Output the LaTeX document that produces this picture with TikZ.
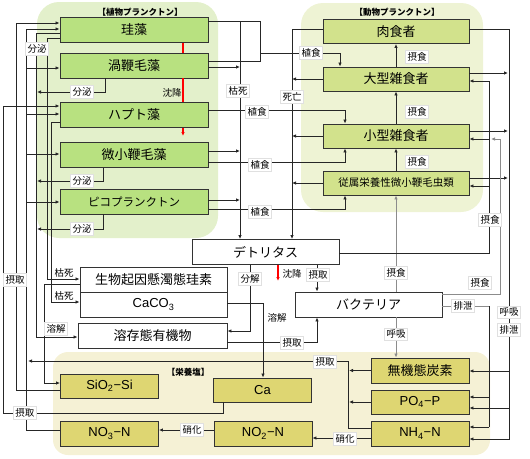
\documentclass[tikz,border=0pt]{standalone}
\usepackage{fontspec}
\setmainfont{Noto Sans CJK JP}
\newfontfamily\lat{Liberation Sans}
\usetikzlibrary{arrows.meta}
\definecolor{phybg}{RGB}{227,240,203}
\definecolor{zoobg}{RGB}{238,243,212}
\definecolor{nutbg}{RGB}{245,241,213}
\definecolor{phyfill}{RGB}{184,225,128}
\definecolor{zoofill}{RGB}{210,226,140}
\definecolor{nutfill}{RGB}{222,214,114}

\begin{document}
\begin{tikzpicture}[x=1pt,y=-1pt,line width=0.8pt,draw=black!85,
  box/.style={draw=black!80,line width=0.9pt,minimum height=25pt,inner sep=0pt,font=\fontsize{13}{15}\selectfont},
  phy/.style={box,fill=phyfill,minimum width=148pt},
  zoo/.style={box,fill=zoofill,minimum width=146pt,minimum height=24pt},
  mid/.style={box,fill=white,minimum width=147pt},
  nut/.style={box,fill=nutfill,minimum width=98pt,minimum height=24pt},
  lbl/.style={fill=white,draw=black!12,line width=0.4pt,inner sep=2pt,font=\fontsize{9.5}{11}\selectfont},
  txt/.style={inner sep=1pt,font=\fontsize{9.5}{11}\selectfont},
  ttl/.style={font=\fontsize{8.5}{10}\selectfont\bfseries},
  arr/.style={-{Latex[length=4pt,width=3.5pt]}},
  gln/.style={draw=black!45},
  sink/.style={draw=red,line width=1.1pt}]
  \useasboundingbox (0,0) rectangle (530,458);

  % groups
  \fill[phybg,rounded corners=22pt] (37,2) rectangle (218,238);
  \fill[zoobg,rounded corners=22pt] (301,3) rectangle (483,212);
  \fill[nutbg,rounded corners=15pt] (53,352) rectangle (490,455);
  \node[ttl] (ttlphy) at (140,12) {【植物プランクトン】};
  \node[ttl] (ttlzoo) at (397,12) {【動物プランクトン】};
  \node[ttl] (ttlnut) at (188,372) {【栄養塩】};

  % phytoplankton
  \node[phy] (keiso) at (134,30) {珪藻};
  \node[phy] (uzu) at (134,65.5) {渦鞭毛藻};
  \node[phy] (hapto) at (134,115) {ハプト藻};
  \node[phy] (bisho) at (134,155) {微小鞭毛藻};
  \node[phy,font=\fontsize{11.5}{13}\selectfont] (pico) at (134,201.5) {ピコプランクトン};

  % zooplankton
  \node[zoo] (niku) at (396,31.5) {肉食者};
  \node[zoo] (ogata) at (396,79) {大型雑食者};
  \node[zoo] (kogata) at (396,136) {小型雑食者};
  \node[zoo,font=\fontsize{10.5}{12}\selectfont] (juzoku) at (396,183) {従属栄養性微小鞭毛虫類};

  % detritus, particles, DOM, bacteria
  \node[mid] (detritus) at (265.5,252) {デトリタス};
  \node[mid] (seibutsu) at (153.5,279.5) {生物起因懸濁態珪素};
  \node[mid] (caco3) at (153.5,304.5) {\lat CaCO\textsubscript{3}};
  \node[mid,minimum width=149pt] (doc) at (152.5,336) {溶存態有機物};
  \node[mid] (bact) at (368.5,304.5) {バクテリア};

  % nutrients
  \node[nut] (sio2) at (109.5,386) {\lat SiO\textsubscript{2}−Si};
  \node[nut] (ca) at (262.5,390) {\lat Ca};
  \node[nut,minimum height=25pt] (no3) at (109.5,433.5) {\lat NO\textsubscript{3}−N};
  \node[nut,minimum height=25pt] (no2) at (263,433.5) {\lat NO\textsubscript{2}−N};
  \node[nut,minimum height=25pt] (tanso) at (420,370.5) {無機態炭素};
  \node[nut] (po4) at (420,402) {\lat PO\textsubscript{4}−P};
  \node[nut,minimum height=25pt] (nh4) at (420,433.5) {\lat NH\textsubscript{4}−N};

  % uptake by phytoplankton
  \draw[arr] (ca.south -| 223,0) |- (3,413) |- (hapto.west |- 0,106);
  \draw[arr] (sio2.west |- 0,390) -| (16,23) -- (keiso.west |- 0,23);
  \draw (no3.west |- 0,430) -| (26,29);
  \foreach \y/\n in {29/keiso,68/uzu,114/hapto,154/bisho,202/pico}
    \draw[arr] (26,\y) -- (\n.west |- 0,\y);
  \draw[arr] (nh4.west |- 0,428) -| (348,361) -- (28,361);
  \draw[arr] (tanso.west) -- (tanso.west -| 349,0);
  \draw[arr] (po4.west) -- (po4.west -| 349,0);

  % excretion and death of phytoplankton
  \draw[arr] (keiso.west |- 0,33) -| (36,337) -- (doc.west |- 0,337);
  \draw[arr] (uzu.south -| 105,0) |- (37,92);
  \draw[arr] (bisho.south -| 103,0) |- (37,181);
  \draw[arr] (pico.south -| 103,0) |- (37,229);
  \draw[arr] (keiso.west |- 0,38) -| (47,279) -- (seibutsu.west |- 0,279);
  \draw[arr] (hapto.west |- 0,122) -| (51,302) -- (caco3.west |- 0,302);
  \draw[arr] (seibutsu.west |- 0,284) -| (44,383) -- (sio2.west |- 0,383);
  \draw[arr] (keiso.east |- 0,21) -| (detritus.north -| 240,0);
  \foreach \y/\n in {67/uzu,151/bisho,200/pico}
    \draw[arr] (\n.east |- 0,\y) -- (240,\y);

  % grazing
  \draw (240,21) -| (260,61) -- (uzu.east |- 0,61);
  \draw[arr] (260,53) -| (ogata.north -| 340,0);
  \draw[arr] (hapto.east |- 0,110) -| (kogata.north -| 345,0);
  \draw[arr] (bisho.east |- 0,162) -| (kogata.south -| 345,0);
  \draw[arr] (pico.east |- 0,209) -| (juzoku.south -| 345,0);
  \draw[arr] (ogata.north) -- (niku.south);
  \draw[arr] (kogata.north) -- (ogata.south);
  \draw[arr] (juzoku.north) -- (kogata.south);
  \draw[arr,gln] (bact.north -| 396,0) -- (juzoku.south);
  \draw[arr,gln] (bact.south -| 396,0) -- (tanso.north -| 396,0);

  % zooplankton death, respiration, excretion
  \draw[arr] (niku.west |- 0,29) -| (detritus.north -| 292,0);
  \foreach \n in {ogata,kogata,juzoku}
    \draw[arr] (\n.west) -- (\n.west -| 292,0);
  \draw[arr] (niku.east |- 0,29) -| (509,439) -- (nh4.east |- 0,439);
  \foreach \y/\n in {73/ogata,131/kogata,178/juzoku}
    \draw[arr] (\n.east |- 0,\y) -- (508,\y);
  \draw[arr] (509,371) -- (tanso.east |- 0,371);
  \draw[arr] (509,408) -- (po4.east |- 0,408);
  \draw (detritus.east |- 0,253) -| (489,81);
  \foreach \y/\n in {81/ogata,139/kogata,186/juzoku}
    \draw[arr] (489,\y) -- (\n.east |- 0,\y);

  % bacteria
  \draw[arr,gln] (bact.east |- 0,294) -| (500,139) -- (491,139);
  \draw[gln] (bact.east |- 0,306) -- (489,306);
  \draw (489,306) -- (489,427);
  \draw[arr] (489,397) -- (po4.east |- 0,397);
  \draw[arr] (489,427) -- (nh4.east |- 0,427);
  \draw[arr] (detritus.south -| 317,0) -- (bact.north -| 317,0);
  \draw[arr] (doc.east |- 0,342) -| (bact.south -| 317,0);
  \draw[arr] (detritus.south -| 250,0) |- (doc.east |- 0,331);
  \draw[arr] (caco3.east |- 0,303) -| (ca.north -| 263,0);

  % nitrification
  \draw[arr] (no2.west |- 0,430) -- (no3.east |- 0,430);
  \draw[arr] (nh4.west |- 0,438) -- (no2.east |- 0,438);

  % sinking
  \draw[sink] (keiso.south -| 183,0) -- (uzu.north -| 183,0);
  \draw[sink] (uzu.south -| 183,0) -- (hapto.north -| 183,0);
  \draw[sink,arr] (hapto.south -| 183,0) -- (183,136);
  \draw[sink,arr] (detritus.south -| 278,0) -- (278,281);

  % labels
  \node[lbl] (bunpi1) at (37,49) {分泌};
  \node[lbl] (bunpi2) at (82,92) {分泌};
  \node[lbl] (bunpi3) at (82,181) {分泌};
  \node[lbl] (bunpi4) at (82,229) {分泌};
  \node[txt] (chinko1) at (172,93) {沈降};
  \node[txt] (chinko2) at (292,274) {沈降};
  \node[lbl] (koshi1) at (238,91) {枯死};
  \node[txt] (koshi2) at (64,273) {枯死};
  \node[txt] (koshi3) at (64,296) {枯死};
  \node[lbl] (shoku1) at (311,53) {植食};
  \node[lbl] (shoku2) at (257,112) {植食};
  \node[lbl] (shoku3) at (260,165) {植食};
  \node[lbl] (shoku4) at (260,212) {植食};
  \node[lbl] (shibo) at (292,97) {死亡};
  \node[lbl] (sesshoku1) at (417,57) {摂食};
  \node[lbl] (sesshoku2) at (417,112) {摂食};
  \node[lbl] (sesshoku3) at (417,162) {摂食};
  \node[lbl] (sesshoku4) at (396,273) {摂食};
  \node[lbl] (sesshoku5) at (480,283) {摂食};
  \node[lbl] (sesshoku6) at (490,220) {摂食};
  \node[lbl] (kokyu1) at (396,334) {呼吸};
  \node[lbl] (kokyu2) at (509,312) {呼吸};
  \node[lbl] (haisetsu1) at (509,330) {排泄};
  \node[lbl] (haisetsu2) at (463,306) {排泄};
  \node[lbl] (sesshu1) at (15,280) {摂取};
  \node[lbl] (sesshu2) at (25,413) {摂取};
  \node[lbl] (sesshu3) at (318,275) {摂取};
  \node[lbl] (sesshu4) at (292,343) {摂取};
  \node[lbl] (sesshu5) at (325,362) {摂取};
  \node[lbl] (bunkai) at (250,279) {分解};
  \node[lbl] (yokai1) at (56,329) {溶解};
  \node[txt] (yokai2) at (277,318) {溶解};
  \node[lbl] (shoka1) at (192,430) {硝化};
  \node[lbl] (shoka2) at (345,439) {硝化};
\end{tikzpicture}
\end{document}
